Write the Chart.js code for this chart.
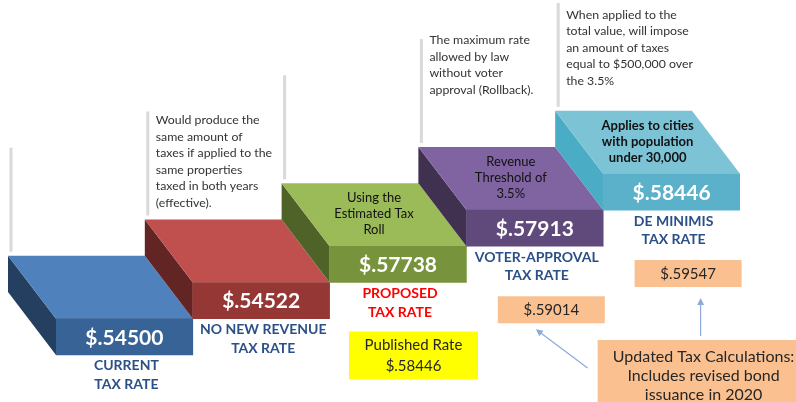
<!DOCTYPE html>
<html>
<head>
<meta charset="utf-8">
<style>
  html, body { margin: 0; padding: 0; background: #fff; }
  #wrap { width: 796px; height: 402px; position: relative; }
</style>
</head>
<body>
<div id="wrap"><canvas id="taxSteps"></canvas></div>
<script src="https://cdn.jsdelivr.net/npm/chart.js"></script>
<script>
  // the five rate steps, left to right
  var categories = [['CURRENT', 'TAX RATE'], ['NO NEW REVENUE', 'TAX RATE'], ['PROPOSED', 'TAX RATE'],
                    ['VOTER-APPROVAL', 'TAX RATE'], ['DE MINIMIS', 'TAX RATE']];
  var rates = [0.54500, 0.54522, 0.57738, 0.57913, 0.58446];
  var steps = [0, 1, 2, 3, 4];   // stair level of each block
  var topNotes = [[], [], ['Using the', 'Estimated Tax', 'Roll'], ['Revenue', 'Threshold of', '3.5%'],
                  ['Applies to cities', 'with population', 'under 30,000']];
  var sideNotes = [[],
                   ['Would produce the', 'same amount of', 'taxes if applied to the', 'same properties', 'taxed in both years', '(effective).'],
                   [],
                   ['The maximum rate', 'allowed by law', 'without voter', 'approval (Rollback).'],
                   ['When applied to the', 'total value, will impose', 'an amount of taxes', 'equal to $500,000 over', 'the 3.5%']];
  var updatedRates = [null, null, null, 0.59014, 0.59547];
  var publishedRate = 0.58446;
  var updateNote = ['Updated Tax Calculations:', 'Includes revised bond', 'issuance in 2020'];

  var frontColors = ['#386396', '#953735', '#77933C', '#604A7B', '#5BB0CA'];
  var topColors = ['#4F81BD', '#C0504D', '#9BBB59', '#8064A2', '#7DC3D6'];
  var sideColors = ['#243F60', '#632523', '#4F6228', '#403151', '#4BACC6'];
  var labelColors = ['#2B5088', '#2B5088', '#FF0000', '#2B5088', '#2B5088'];

  var DX = 48, DY = 63;          // depth of the 3d blocks
  var FONT = 'Lato, "Open Sans", sans-serif';

  function fmtRate(v) { return '$' + v.toFixed(5).slice(1); }

  function poly(ctx, pts, fill) {
    ctx.beginPath();
    ctx.moveTo(pts[0][0], pts[0][1]);
    for (var i = 1; i < pts.length; i++) ctx.lineTo(pts[i][0], pts[i][1]);
    ctx.closePath();
    ctx.fillStyle = fill;
    ctx.fill();
  }

  function textLines(ctx, lines, x, y, gap) {
    lines.forEach(function (t, k) { ctx.fillText(t, x, y + k * gap); });
  }

  function box(ctx, x, y, w, h, fill, lines, gap, top, size) {
    ctx.fillStyle = fill;
    ctx.fillRect(x, y, w, h);
    ctx.fillStyle = '#262626';
    ctx.font = (size || 15) + 'px ' + FONT;
    ctx.textAlign = 'center';
    ctx.textBaseline = 'middle';
    textLines(ctx, lines, x + w / 2, y + top, gap);
  }

  function arrow(ctx, x1, y1, x2, y2) {
    var a = Math.atan2(y2 - y1, x2 - x1);
    ctx.strokeStyle = '#8EAADB';
    ctx.fillStyle = '#8EAADB';
    ctx.lineWidth = 1.2;
    ctx.beginPath();
    ctx.moveTo(x1, y1);
    ctx.lineTo(x2 - 5 * Math.cos(a), y2 - 5 * Math.sin(a));
    ctx.stroke();
    ctx.beginPath();
    ctx.moveTo(x2, y2);
    ctx.lineTo(x2 - 7 * Math.cos(a) + 3.5 * Math.sin(a), y2 - 7 * Math.sin(a) - 3.5 * Math.cos(a));
    ctx.lineTo(x2 - 7 * Math.cos(a) - 3.5 * Math.sin(a), y2 - 7 * Math.sin(a) + 3.5 * Math.cos(a));
    ctx.closePath();
    ctx.fill();
  }

  var noteDy = [0, 9, 0, 1, 12];

  var stairPlugin = {
    id: 'stairs',
    beforeDatasetsDraw: function (chart) {
      var ctx = chart.ctx;
      var bars = chart.getDatasetMeta(0).data;
      ctx.save();
      bars.forEach(function (b, i) {
        var x0 = b.x - b.width / 2, x1 = b.x + b.width / 2, yt = b.y, yb = b.base;
        poly(ctx, [[x0, yt], [x0, yb], [x0 - DX, yb - DY], [x0 - DX, yt - DY]], sideColors[i]);
        poly(ctx, [[x0, yt], [x1, yt], [x1 - DX, yt - DY], [x0 - DX, yt - DY]], topColors[i]);
      });
      ctx.restore();
    },
    afterDatasetsDraw: function (chart) {
      var ctx = chart.ctx;
      var bars = chart.getDatasetMeta(0).data;
      ctx.save();
      bars.forEach(function (b, i) {
        var x0 = b.x - b.width / 2, yt = b.y, yb = b.base;
        // rate on the front face
        ctx.fillStyle = '#fff';
        ctx.font = 'bold 21px ' + FONT;
        ctx.textAlign = 'center';
        ctx.textBaseline = 'middle';
        ctx.fillText(fmtRate(rates[i]), b.x, (yt + yb) / 2 + 1);
        // name under the block
        ctx.fillStyle = labelColors[i];
        ctx.font = 'bold 14px ' + FONT;
        textLines(ctx, categories[i], b.x + 2, yb + 11, 18.5);
        // note on the top face
        ctx.fillStyle = '#111';
        ctx.font = (i === 4 ? 'bold ' : '') + '13px ' + FONT;
        textLines(ctx, topNotes[i], b.x - DX / 2, yt - 32 - 16, 16);
        // grey callout line and note
        var lx = x0 - DX + 3, lb = yt - DY - 4, ltop = lb - 104;
        ctx.fillStyle = '#D9D9D9';
        ctx.fillRect(lx - 1.5, ltop, 3, 104);
        ctx.fillStyle = '#333';
        ctx.font = '12.3px ' + FONT;
        ctx.textAlign = 'left';
        textLines(ctx, sideNotes[i], lx + 8, ltop + noteDy[i], 16.5);
      });

      // published rate under the proposed block
      var g = bars[2];
      box(ctx, g.x + 15 - 64, g.base + 49, 129, 48, '#FFFF00', ['Published Rate', fmtRate(publishedRate)], 21, 14);

      // updated rates
      var tips = [];
      bars.forEach(function (b, i) {
        if (updatedRates[i] === null) return;
        var bx = b.x + 16 - 53, by = b.base + 50;
        box(ctx, bx, by, 107, 27, '#FAC090', [fmtRate(updatedRates[i])], 0, 14);
        tips.push([bx, by + 27]);
      });
      var c = bars[4];
      var nx = c.x - 74, ny = c.base + 130;
      box(ctx, nx, ny, 212, 70, '#FAC090', updateNote, 19, 17, 16);
      arrow(ctx, nx - 10, ny + 28, tips[0][0] + 38, tips[0][1] + 6);
      arrow(ctx, nx + 103, ny - 4, nx + 103, tips[1][1] + 11);
      ctx.restore();
    }
  };

  var ctx = document.getElementById('taxSteps').getContext('2d');
  var chart = new Chart(ctx, {
    type: 'bar',
    data: {
      labels: categories.map(function (c) { return c.join(' '); }),
      datasets: [{
        data: steps.map(function (s) { return [s, s + 1]; }),
        backgroundColor: frontColors,
        borderWidth: 0,
        barPercentage: 1,
        categoryPercentage: 1
      }]
    },
    options: {
      responsive: true,
      maintainAspectRatio: false,
      animation: false,
      layout: { padding: { left: 56, right: 56, top: 0, bottom: 0 } },
      plugins: { legend: { display: false }, tooltip: { enabled: false } },
      scales: {
        x: { display: false },
        y: { display: false, min: -1.3, max: 9.8 }
      }
    },
    plugins: [stairPlugin]
  });
</script>
</body>
</html>
